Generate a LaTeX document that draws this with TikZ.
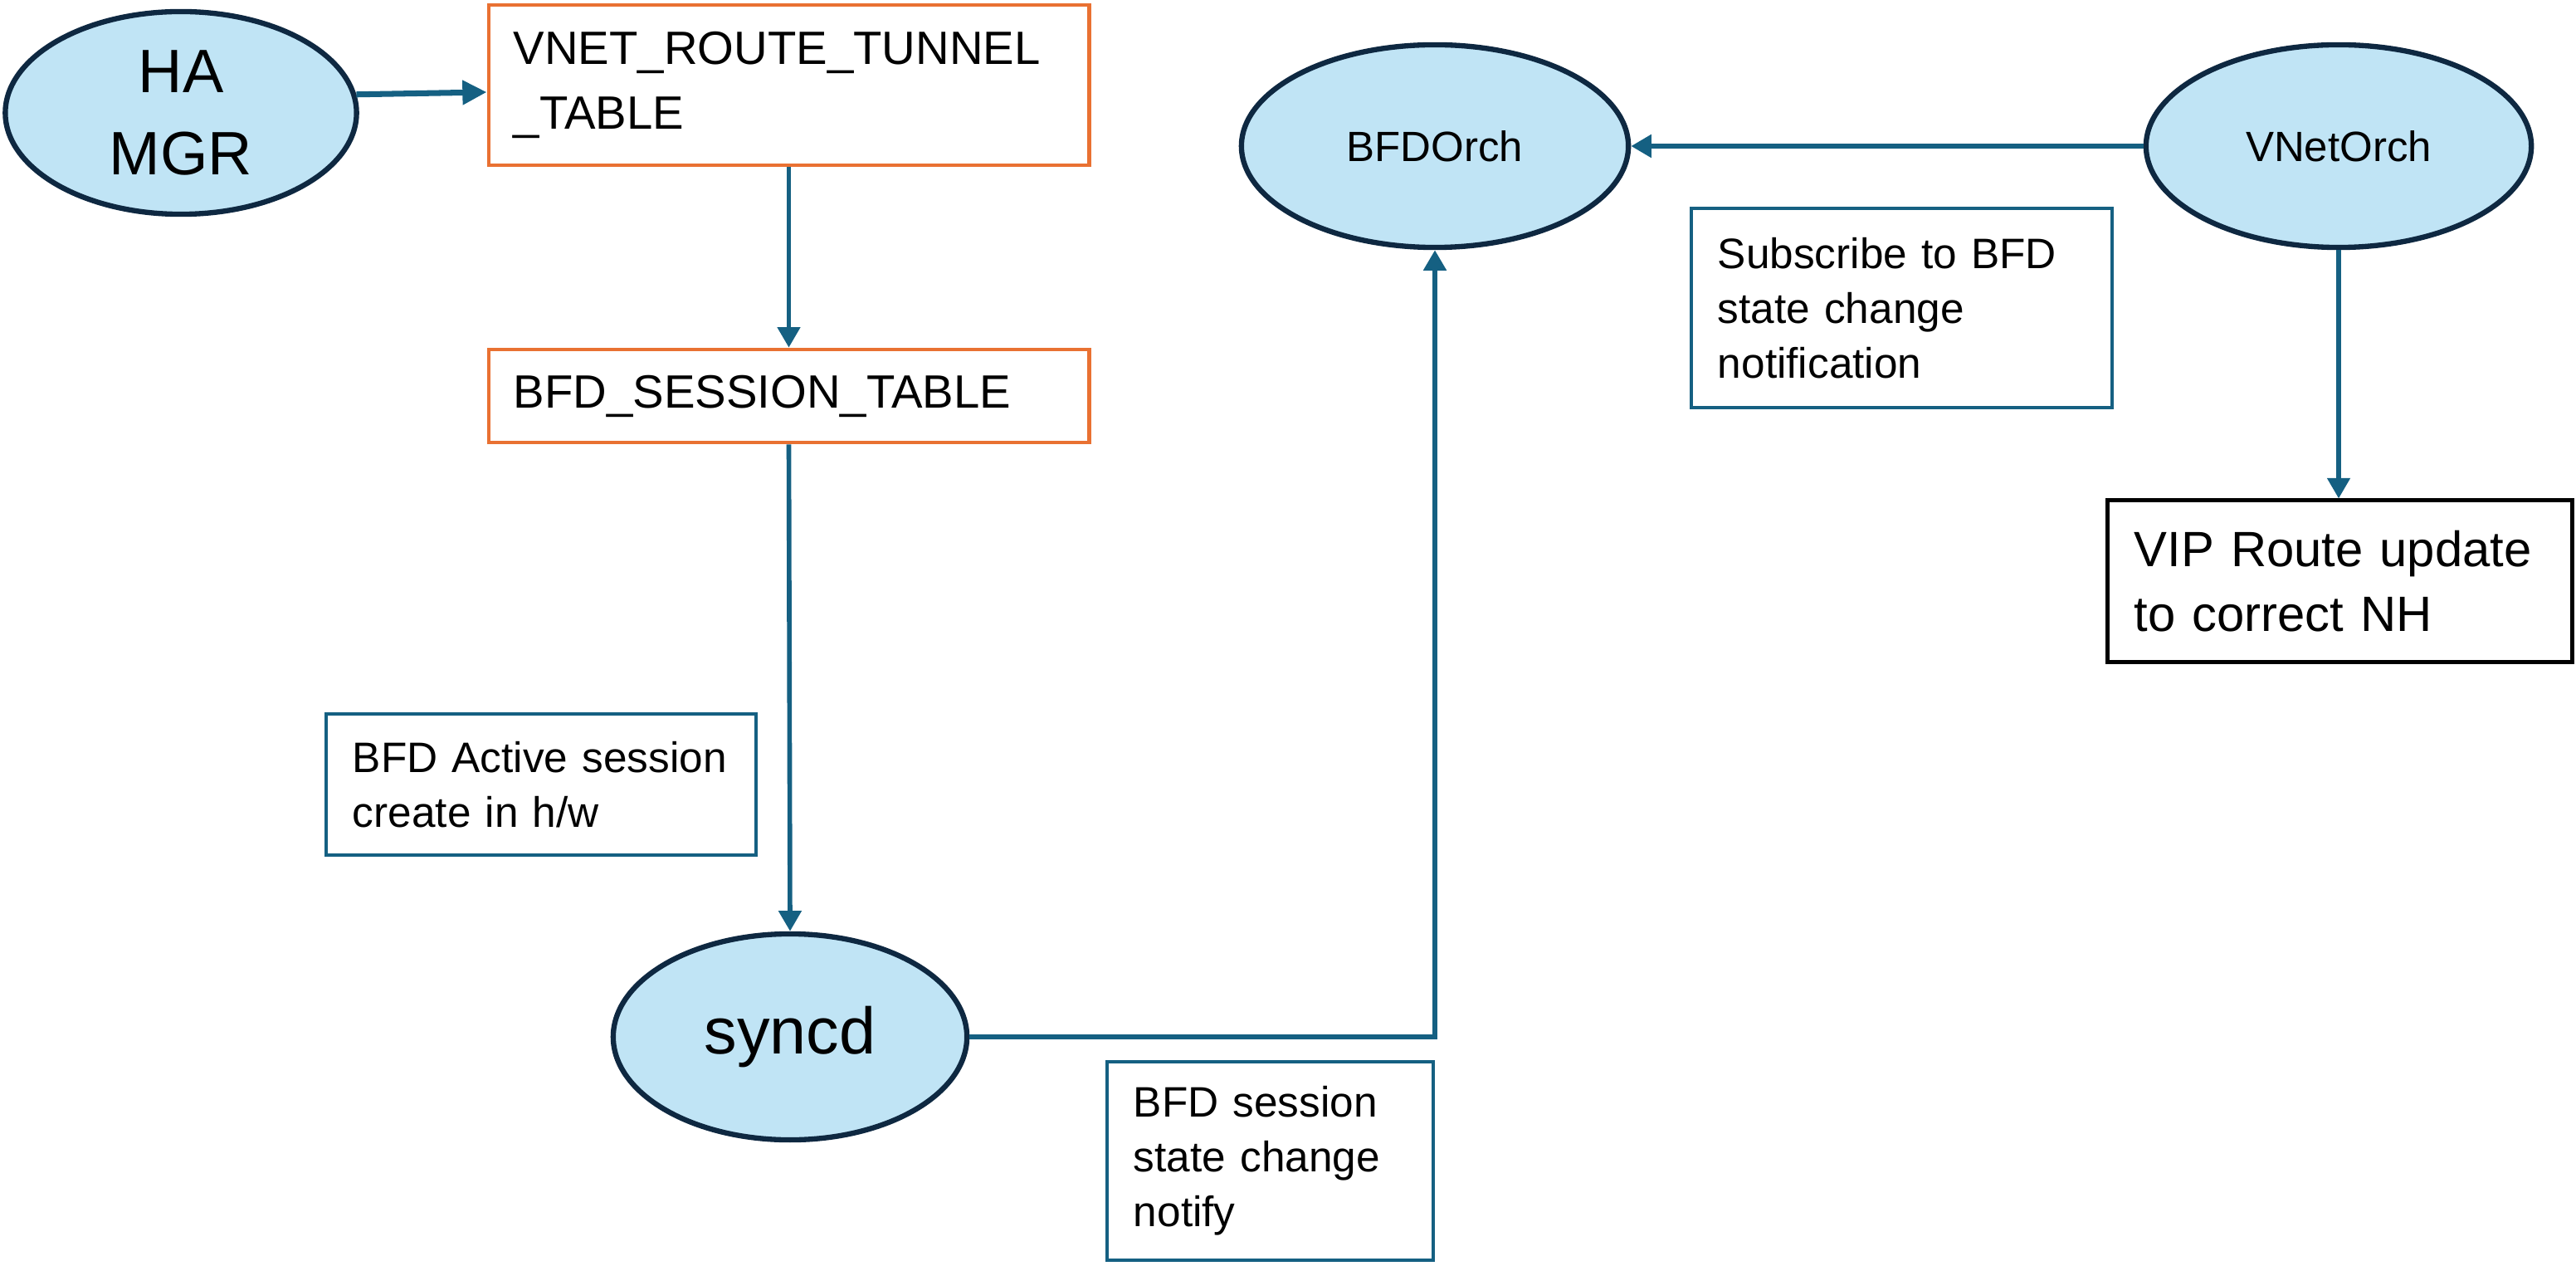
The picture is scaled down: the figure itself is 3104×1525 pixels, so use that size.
\documentclass[tikz,border=0pt]{standalone}
\usepackage{fontspec}
\setmainfont{Liberation Sans}
\usetikzlibrary{shapes.geometric,arrows.meta}
\definecolor{fillblue}{HTML}{C0E4F5}
\definecolor{navy}{HTML}{0E2841}
\definecolor{lnblue}{HTML}{156082}
\definecolor{orng}{HTML}{E97132}
\begin{document}
\begin{tikzpicture}[x=0.01cm,y=-0.01cm,
  proc/.style={ellipse, draw=navy, line width=1.8pt, fill=fillblue, inner sep=0pt, align=center},
  tbl/.style={rectangle, draw=orng, line width=1.3pt, inner xsep=0.3cm, inner ysep=0pt, align=left,
              font=\fontsize{16}{22}\selectfont},
  note/.style={rectangle, draw=lnblue, line width=1.3pt, inner xsep=0.32cm, inner ysep=0pt, align=left,
              font=\fontsize{14.6}{18.8}\selectfont},
  arr/.style={draw=lnblue, line width=1.6pt, -{Triangle[length=7pt,width=7.6pt]}},
]
\useasboundingbox (0,0) rectangle (3104,1525);

% ellipses
\node[proc, minimum width=4.23cm, minimum height=2.44cm, font=\fontsize{21}{28}\selectfont] (ha) at (218,136) {HA\\MGR};
\node[proc, minimum width=4.66cm, minimum height=2.44cm, font=\fontsize{14.5}{18}\selectfont] (bfdorch) at (1729,176) {BFDOrch};
\node[proc, minimum width=4.64cm, minimum height=2.44cm, font=\fontsize{14.5}{18}\selectfont] (vnetorch) at (2818,176) {VNetOrch};
\node[proc, minimum width=4.26cm, minimum height=2.48cm, font=\fontsize{22.5}{27}\selectfont] (syncd) at (952,1249) {syncd};

% tables
\node[tbl, text width=6.63cm, minimum height=1.93cm] (vnet) at (950.5,102.5) {VNET\_ROUTE\_TUNNEL\\\_TABLE};
\node[tbl, text width=6.63cm, minimum height=1.12cm] (bfdtbl) at (950.5,477) {BFD\_SESSION\_TABLE};

% notes
\node[note, text width=4.54cm, minimum height=1.70cm] (active) at (652,945) {BFD Active session\\create in h/w};
\node[note, text width=3.29cm, minimum height=2.39cm] (notify) at (1530.5,1398.5) {BFD session\\state change\\notify};
\node[note, text width=4.43cm, minimum height=2.40cm] (subscr) at (2291.5,371) {Subscribe to BFD\\state change\\notification};
\node[rectangle, draw=black, line width=1.4pt, inner xsep=0.32cm, inner ysep=0pt, align=left,
      text width=4.95cm, minimum height=1.94cm, font=\fontsize{17}{22.2}\selectfont] (vip) at (2819.5,700) {VIP Route update\\to correct NH};

% connectors
\draw[draw=lnblue, line width=2pt, -{Triangle[length=8.3pt,width=8pt]}] (ha.6) -- ([yshift=-0.085cm]vnet.west);
\draw[arr] (vnet.south) -- (bfdtbl.north);
\draw[arr] (bfdtbl.south) -- (syncd.north);
\draw[arr, line width=1.7pt] (syncd.east) -| (bfdorch.south);
\draw[arr, line width=1.8pt] (vnetorch.west) -- (bfdorch.east);
\draw[arr] (vnetorch.south) -- (vip.north -| vnetorch.south);
\end{tikzpicture}
\end{document}
